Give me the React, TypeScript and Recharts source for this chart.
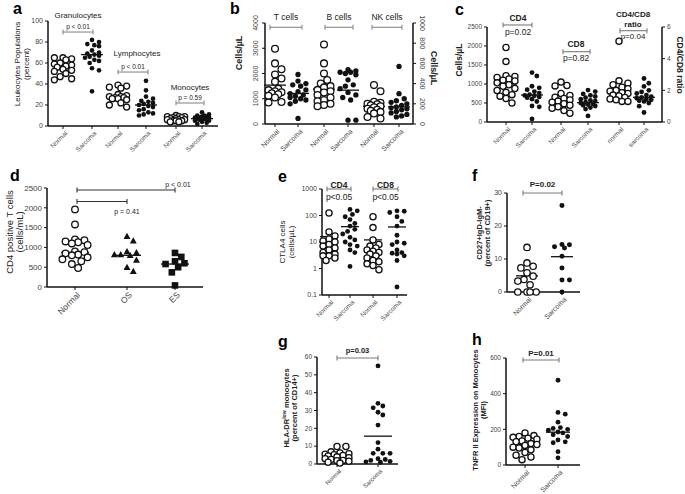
import React from "react";
import { ScatterChart, Scatter, XAxis, YAxis, ReferenceLine, ReferenceDot } from "recharts";

const FONT = "'Liberation Sans', Arial, Helvetica, sans-serif";

// ---- a: leukocyte populations (percent)
const aLabels = ["Normal", "Sarcoma", "Normal", "Sarcoma", "Normal", "Sarcoma"];
const aTitles = ["Granulocytes", "Lymphocytes", "Monocytes"];
const aPValues = ["p < 0.01", "p < 0.01", "p = 0.59"];
const granNormal = [65, 64, 65, 63, 60, 58, 59, 57, 56, 53, 54, 52, 50, 47, 45, 44];
const granSarcoma = [82, 80, 78, 77, 76, 72, 70, 69, 68, 67, 66, 65, 63, 62, 60, 55, 53, 33];
const lymphNormal = [39, 38, 37, 36, 30, 29, 28, 28, 27, 27, 26, 26, 25, 22, 20, 18];
const lymphSarcoma = [43, 34, 28, 26, 24, 23, 22, 21, 20, 19, 18, 16, 15, 13, 12, 11, 10];
const monoNormal = [10, 9, 9, 9, 8, 8, 7, 7, 6, 6, 6, 5, 5, 5, 4, 4];
const monoSarcoma = [13, 11, 10, 10, 9, 9, 8, 8, 8, 7, 7, 7, 6, 6, 5, 5, 4, 3, 2];
const aMeans = [58, 68, 27.5, 20, 6, 7];

// ---- b: T, B (left axis) and NK cells (right axis), cells/uL
const bTitles = ["T cells", "B cells", "NK cells"];
const tNormal = [2980, 2400, 2170, 1960, 1800, 1670, 1400, 1340, 1300, 1260, 1220, 1180, 1120, 1050, 870, 850];
const tSarcoma = [1960, 1700, 1600, 1550, 1500, 1350, 1280, 1200, 1150, 1100, 1050, 1000, 950, 900, 800, 220];
const bNormal = [3150, 2400, 2000, 1740, 1600, 1500, 1450, 1350, 1300, 1250, 1150, 1050, 950, 900, 800, 750, 700];
const bSarcoma = [2150, 2100, 2050, 2050, 2000, 1950, 1750, 1550, 1500, 1400, 1250, 1150, 1050, 950, 150, 150];
const nkNormal = [385, 325, 220, 210, 200, 195, 185, 175, 165, 150, 140, 130, 120, 105, 70, 55];
const nkSarcoma = [570, 300, 250, 230, 215, 200, 185, 170, 160, 150, 140, 125, 110, 95, 80, 70];
const bMeans = [1540, 1210, 1380, 1340, 175, 170];

// ---- c: CD4, CD8 (cells/uL) and CD4/CD8 ratio
const cLabels = ["Normal", "Sarcoma", "Normal", "Sarcoma", "normal", "sarcoma"];
const cPValues = ["p=0.02", "p=0.82", "p=0.04"];
const cd4Normal = [1960, 1590, 1220, 1200, 1170, 1130, 1100, 1080, 1030, 980, 940, 880, 830, 780, 720, 680, 620, 500];
const cd4Sarcoma = [1300, 1210, 940, 900, 850, 800, 760, 720, 700, 690, 660, 640, 600, 540, 420, 400, 80];
const cd8Normal = [1050, 960, 950, 750, 700, 650, 620, 580, 550, 520, 480, 440, 400, 360, 300, 230];
const cd8Sarcoma = [840, 800, 740, 700, 670, 640, 600, 570, 550, 520, 500, 480, 460, 440, 420, 380, 340, 160];
const ratioNormal = [5.1, 2.6, 2.45, 2.35, 2.2, 2.1, 2.0, 1.95, 1.85, 1.8, 1.7, 1.65, 1.55, 1.45, 1.4, 1.3, 1.3];
const ratioSarcoma = [2.75, 2.45, 2.25, 2.0, 1.9, 1.8, 1.7, 1.6, 1.55, 1.5, 1.45, 1.4, 1.35, 1.3, 1.2, 1.0, 0.6];
const cMeans = [1000, 710, 580, 510, 2.0, 1.56];

// ---- d: CD4 positive T cells by group
const dLabels = ["Normal", "OS", "ES"];
const dPValues = ["p < 0.01", "p = 0.41"];
const dNormal = [1960, 1580, 1200, 1180, 1150, 1130, 1100, 1060, 900, 880, 850, 820, 800, 750, 700, 650, 580, 480];
const dOS = [1280, 1170, 900, 870, 820, 820, 800, 680, 500, 400];
const dES = [860, 760, 650, 600, 580, 500, 370, 40];
const dMeans = [870, 800, 580];

// ---- e: CTLA4 cells (log)
const eCd4Normal = [125, 24, 17, 13, 11, 10, 8, 7, 6, 5, 4, 3.5, 3, 3, 2.5, 2];
const eCd4Sarcoma = [170, 150, 110, 90, 70, 50, 40, 30, 25, 20, 15, 12, 10, 8, 7, 5, 4, 1.2];
const eCd8Normal = [90, 35, 12, 8, 7, 6, 5, 4.5, 4, 3.5, 3, 2.5, 2, 1.8, 1.5, 1.3, 0.9];
const eCd8Sarcoma = [150, 145, 130, 90, 60, 40, 18, 10, 9, 8, 5, 4, 3.8, 3.5, 3, 2, 0.2];
const eMeans = [16, 38, 12, 37];

// ---- f: CD27+IgD-IgM-
const fNormal = [13.5, 8.8, 7.8, 7.3, 5.8, 4.8, 3.8, 3.3, 2.2, 0, 0, 0, 0];
const fSarcoma = [26.2, 14.4, 14.3, 13.7, 13.3, 10.8, 7.3, 3.6, 3.6, 0];
const fMeans = [4.9, 10.7];

// ---- g: HLA-DR low monocytes
const gNormal = [9.8, 9.8, 6.8, 6.2, 5.8, 5.5, 5.2, 4.8, 4.5, 4, 3.5, 3, 2.5, 2, 1.8, 1.5, 1, 0.5];
const gSarcoma = [55, 34, 32.5, 31.5, 29, 27.5, 21.8, 12, 8.3, 6, 6, 6, 3, 2.5, 2, 1.5, 1.2, 1];
const gMeans = [4.1, 15.6];

// ---- h: TNFR II on monocytes
const hNormal = [180, 165, 160, 155, 150, 145, 135, 130, 120, 115, 110, 100, 95, 85, 70, 55, 45, 30];
const hSarcoma = [475, 295, 285, 240, 210, 205, 200, 195, 185, 180, 170, 160, 140, 130, 125, 75, 40];
const hMeans = [116, 184];

const twoGroup = ["Normal", "Sarcoma"];

type Marker = "open" | "dot" | "tri" | "sq";
type AxisId = "left" | "right";
interface Group { pos: number; label: string; values: number[]; mean: number; marker: Marker; axis?: AxisId }
interface Bracket { from: number; to: number; y: number; axis?: AxisId }
interface Note { x: number; y: number; text: string; size: number; bold?: boolean; axis?: AxisId }
interface PanelCfg {
  box: { x1: number; y1: number; x2: number; y2: number };
  yDomain: [number, number];
  yTicks: number[];
  log?: boolean;
  right?: { domain: [number, number]; ticks: number[] };
  rotateTicks?: boolean;
  tickSize: number;
  xTickSize: number;
  r: number;
  spread: number;
  meanHalf: number;
  bracketColor: string;
  groups: Group[];
  brackets: Bracket[];
  notes: Note[];
}

function MarkerShape({ kind, cx, cy, r }: { kind: Marker; cx: number; cy: number; r: number }) {
  if (kind === "open") return <circle cx={cx} cy={cy} r={r} fill="#fff" stroke="#111" strokeWidth={1.3} />;
  if (kind === "dot") return <circle cx={cx} cy={cy} r={r * 0.78} fill="#111" />;
  if (kind === "tri") {
    const s = r * 1.05;
    return <polygon points={`${cx},${cy - s} ${cx - s},${cy + s * 0.8} ${cx + s},${cy + s * 0.8}`} fill="#111" />;
  }
  return <rect x={cx - r} y={cy - r} width={r * 2} height={r * 2} fill="#111" />;
}

// column-scatter layout: push points sideways within +-maxS px, accepting overlap when crowded
function swarm(ys: number[], r: number, maxS: number): number[] {
  const placed: { x: number; y: number }[] = [];
  const step = r * 0.9;
  const cands = [0];
  for (let k = 1; k * step <= maxS; k++) cands.push(k * step, -k * step);
  return ys.map((y) => {
    let best = 0;
    let bestD = -1;
    for (const off of cands) {
      const d = placed.length ? Math.min(...placed.map((p) => Math.hypot(p.x - off, p.y - y))) : Infinity;
      if (d >= 2 * r) { best = off; break; }
      if (d > bestD) { bestD = d; best = off; }
    }
    placed.push({ x: best, y });
    return best;
  });
}

function Panel({ c }: { c: PanelCfg }) {
  const { x1, y1, x2, y2 } = c.box;
  const W = x2 - x1;
  const H = y2 - y1;
  const L = 50, T = 45, B = 50, R = 40;

  const yPx = (v: number, axis: AxisId) => {
    const [d0, d1] = axis === "right" && c.right ? c.right.domain : c.yDomain;
    if (c.log) return ((Math.log10(v) - Math.log10(d0)) / (Math.log10(d1) - Math.log10(d0))) * H;
    return ((v - d0) / (d1 - d0)) * H;
  };

  const labels: Record<number, string> = {};
  c.groups.forEach((g) => (labels[g.pos] = g.label));
  const axisLine = { stroke: "#111", strokeWidth: 1.5 };
  const tickLine = { stroke: "#111", strokeWidth: 1 };
  const tickFont = { fontSize: c.tickSize, fill: "#444", fontFamily: FONT };

  const xTick = (p: any) => {
    const { x, y, payload } = p;
    return (
      <text x={x + 2} y={y} dy="0.6em" transform={`rotate(-45 ${x + 2} ${y})`} textAnchor="end"
        fontSize={c.xTickSize} fill="#444" fontFamily={FONT}>{labels[payload.value]}</text>
    );
  };
  const leftRot = (p: any) => (
    <text x={p.x} y={p.y} transform={`rotate(-90 ${p.x} ${p.y})`} textAnchor="middle"
      {...tickFont}>{p.payload.value}</text>
  );
  const rightRot = (p: any) => (
    <text x={p.x} y={p.y} transform={`rotate(90 ${p.x} ${p.y})`} textAnchor="middle"
      {...tickFont}>{p.payload.value}</text>
  );

  const cap = 2.5;
  const bracketShape = (p: any) => (
    <g stroke={c.bracketColor} strokeWidth={1.1}>
      <line x1={p.x1} y1={p.y1} x2={p.x2} y2={p.y2} />
      <line x1={p.x1} y1={p.y1 - cap} x2={p.x1} y2={p.y1 + cap} />
      <line x1={p.x2} y1={p.y2 - cap} x2={p.x2} y2={p.y2 + cap} />
    </g>
  );

  return (
    <div style={{ position: "absolute", left: x1 - L, top: y1 - T }}>
      <ScatterChart width={W + L + R} height={H + T + B}
        margin={{ top: T, right: c.right ? 0 : R, bottom: 0, left: 0 }}>
        <XAxis type="number" dataKey="x" domain={[0, W]} ticks={c.groups.map((g) => g.pos)} interval={0}
          tick={xTick} tickSize={3} tickMargin={2} axisLine={axisLine} tickLine={tickLine} height={B} />
        <YAxis yAxisId="left" type="number" dataKey="y" domain={c.yDomain} ticks={c.yTicks} interval={0}
          scale={c.log ? "log" : "auto"} width={L} tickSize={3} tickMargin={c.rotateTicks ? 4 : 2}
          axisLine={axisLine} tickLine={tickLine} tick={c.rotateTicks ? leftRot : tickFont}
          tickFormatter={(v: number) => String(v)} />
        {c.right && (
          <YAxis yAxisId="right" orientation="right" type="number" dataKey="y" domain={c.right.domain}
            ticks={c.right.ticks} interval={0} width={R} tickSize={3} tickMargin={c.rotateTicks ? 4 : 2}
            axisLine={axisLine} tickLine={tickLine} tick={c.rotateTicks ? rightRot : tickFont} />
        )}
        {c.groups.map((g, i) => {
          const axis = g.axis ?? "left";
          const rr = g.marker === "dot" ? c.r * 0.8 : c.r;
          const offs = swarm(g.values.map((v) => yPx(v, axis)), rr + 0.2, c.spread);
          const data = g.values.map((v, j) => ({ x: Math.min(W - 1, Math.max(1, g.pos + offs[j])), y: v }));
          return (
            <Scatter key={`s${i}`} yAxisId={axis} data={data} isAnimationActive={false}
              shape={(p: any) => <MarkerShape kind={g.marker} cx={p.cx} cy={p.cy} r={c.r} />} />
          );
        })}
        {c.groups.map((g, i) => (
          <ReferenceLine key={`m${i}`} yAxisId={g.axis ?? "left"} ifOverflow="visible" stroke="#111" strokeWidth={1.3}
            segment={[{ x: g.pos - c.meanHalf, y: g.mean }, { x: g.pos + c.meanHalf, y: g.mean }]} />
        ))}
        {c.brackets.map((b, i) => (
          <ReferenceLine key={`b${i}`} yAxisId={b.axis ?? "left"} ifOverflow="visible" shape={bracketShape}
            segment={[{ x: b.from, y: b.y }, { x: b.to, y: b.y }]} />
        ))}
        {c.notes.map((n, i) => (
          <ReferenceDot key={`n${i}`} yAxisId={n.axis ?? "left"} x={n.x} y={n.y} r={0} ifOverflow="visible"
            shape={(p: any) => (
              <text x={p.cx} y={p.cy} textAnchor="middle" dominantBaseline="central" fontSize={n.size}
                fontWeight={n.bold ? 700 : 400} fill="#222" fontFamily={FONT}>{n.text}</text>
            )} />
        ))}
      </ScatterChart>
    </div>
  );
}

const panelA: PanelCfg = {
  box: { x1: 48, y1: 21, x2: 218, y2: 126 },
  yDomain: [0, 100], yTicks: [0, 20, 40, 60, 80, 100],
  tickSize: 7, xTickSize: 6.5, r: 3.0, spread: 9, meanHalf: 11, bracketColor: "#8a8a8a",
  groups: [
    { pos: 15, label: aLabels[0], values: granNormal, mean: aMeans[0], marker: "open" },
    { pos: 44, label: aLabels[1], values: granSarcoma, mean: aMeans[1], marker: "dot" },
    { pos: 70, label: aLabels[2], values: lymphNormal, mean: aMeans[2], marker: "open" },
    { pos: 98, label: aLabels[3], values: lymphSarcoma, mean: aMeans[3], marker: "dot" },
    { pos: 128, label: aLabels[4], values: monoNormal, mean: aMeans[4], marker: "open" },
    { pos: 154, label: aLabels[5], values: monoSarcoma, mean: aMeans[5], marker: "dot" },
  ],
  brackets: [{ from: 15, to: 45, y: 89.5 }, { from: 70, to: 100, y: 51.4 }, { from: 128, to: 156, y: 21.9 }],
  notes: [
    { x: 30, y: 105.7, text: aTitles[0], size: 8 },
    { x: 30, y: 95.2, text: aPValues[0], size: 6.5 },
    { x: 89, y: 69.5, text: aTitles[1], size: 8 },
    { x: 85, y: 56.2, text: aPValues[1], size: 6.5 },
    { x: 142, y: 36.2, text: aTitles[2], size: 8 },
    { x: 142, y: 26.7, text: aPValues[2], size: 6.5 },
  ],
};

const panelB: PanelCfg = {
  box: { x1: 265, y1: 23, x2: 413, y2: 124 },
  yDomain: [0, 4000], yTicks: [0, 1000, 2000, 3000, 4000],
  right: { domain: [0, 1000], ticks: [0, 200, 400, 600, 800, 1000] },
  rotateTicks: true, tickSize: 7, xTickSize: 7, r: 3.4, spread: 9, meanHalf: 11, bracketColor: "#8a8a8a",
  groups: [
    { pos: 10, label: twoGroup[0], values: tNormal, mean: bMeans[0], marker: "open" },
    { pos: 33, label: twoGroup[1], values: tSarcoma, mean: bMeans[1], marker: "dot" },
    { pos: 59, label: twoGroup[0], values: bNormal, mean: bMeans[2], marker: "open" },
    { pos: 83, label: twoGroup[1], values: bSarcoma, mean: bMeans[3], marker: "dot" },
    { pos: 109, label: twoGroup[0], values: nkNormal, mean: bMeans[4], marker: "open", axis: "right" },
    { pos: 134, label: twoGroup[1], values: nkSarcoma, mean: bMeans[5], marker: "dot", axis: "right" },
  ],
  brackets: [{ from: 5, to: 37, y: 3830 }, { from: 60, to: 88, y: 3830 }, { from: 107, to: 137, y: 3830 }],
  notes: [
    { x: 21, y: 4226, text: bTitles[0], size: 8.5 },
    { x: 74, y: 4226, text: bTitles[1], size: 8.5 },
    { x: 122, y: 4226, text: bTitles[2], size: 8.5 },
  ],
};

const panelC: PanelCfg = {
  box: { x1: 487, y1: 27, x2: 662, y2: 122 },
  yDomain: [0, 2500], yTicks: [0, 500, 1000, 1500, 2000, 2500],
  right: { domain: [0, 6], ticks: [0, 2, 4, 6] },
  tickSize: 6.5, xTickSize: 6.5, r: 3.1, spread: 9, meanHalf: 11, bracketColor: "#7a7a7a",
  groups: [
    { pos: 19, label: cLabels[0], values: cd4Normal, mean: cMeans[0], marker: "open" },
    { pos: 45, label: cLabels[1], values: cd4Sarcoma, mean: cMeans[1], marker: "dot" },
    { pos: 74, label: cLabels[2], values: cd8Normal, mean: cMeans[2], marker: "open" },
    { pos: 101, label: cLabels[3], values: cd8Sarcoma, mean: cMeans[3], marker: "dot" },
    { pos: 132, label: cLabels[4], values: ratioNormal, mean: cMeans[4], marker: "open", axis: "right" },
    { pos: 157, label: cLabels[5], values: ratioSarcoma, mean: cMeans[5], marker: "dot", axis: "right" },
  ],
  brackets: [{ from: 16, to: 45, y: 2553 }, { from: 76, to: 103, y: 1850 }, { from: 133, to: 160, y: 2403 }],
  notes: [
    { x: 31, y: 2737, text: "CD4", size: 8.5, bold: true },
    { x: 31, y: 2368, text: cPValues[0], size: 8.5 },
    { x: 89, y: 2053, text: "CD8", size: 8.5, bold: true },
    { x: 89, y: 1684, text: cPValues[1], size: 8.5 },
    { x: 146, y: 2840, text: "CD4/CD8", size: 8, bold: true },
    { x: 146, y: 2570, text: "ratio", size: 8, bold: true },
    { x: 146, y: 2250, text: cPValues[2], size: 8 },
  ],
};

const panelD: PanelCfg = {
  box: { x1: 47, y1: 188, x2: 203, y2: 287 },
  yDomain: [0, 2500], yTicks: [0, 500, 1000, 1500, 2000, 2500],
  tickSize: 8, xTickSize: 8.5, r: 3.3, spread: 15, meanHalf: 14, bracketColor: "#333",
  groups: [
    { pos: 28, label: dLabels[0], values: dNormal, mean: dMeans[0], marker: "open" },
    { pos: 80, label: dLabels[1], values: dOS, mean: dMeans[1], marker: "tri" },
    { pos: 128, label: dLabels[2], values: dES, mean: dMeans[2], marker: "sq" },
  ],
  brackets: [{ from: 30, to: 128, y: 2450 }, { from: 30, to: 80, y: 2159 }],
  notes: [
    { x: 131, y: 2601, text: dPValues[0], size: 7 },
    { x: 80, y: 1894, text: dPValues[1], size: 7 },
  ],
};

const panelE: PanelCfg = {
  box: { x1: 322, y1: 189, x2: 407, y2: 295 },
  yDomain: [0.1, 1000], yTicks: [0.1, 1, 10, 100, 1000], log: true,
  tickSize: 7, xTickSize: 6.5, r: 3.1, spread: 8, meanHalf: 9, bracketColor: "#7a7a7a",
  groups: [
    { pos: 7, label: twoGroup[0], values: eCd4Normal, mean: eMeans[0], marker: "open" },
    { pos: 28, label: twoGroup[1], values: eCd4Sarcoma, mean: eMeans[1], marker: "dot" },
    { pos: 51, label: twoGroup[0], values: eCd8Normal, mean: eMeans[2], marker: "open" },
    { pos: 75, label: twoGroup[1], values: eCd8Sarcoma, mean: eMeans[3], marker: "dot" },
  ],
  brackets: [{ from: 5, to: 29, y: 1000 }, { from: 51, to: 76, y: 1000 }],
  notes: [
    { x: 17, y: 1450, text: "CD4", size: 8.5, bold: true },
    { x: 17, y: 513, text: "p<0.05", size: 8.5 },
    { x: 63.5, y: 1450, text: "CD8", size: 8.5, bold: true },
    { x: 63.5, y: 513, text: "p<0.05", size: 8.5 },
  ],
};

const panelF: PanelCfg = {
  box: { x1: 507, y1: 193, x2: 580, y2: 292 },
  yDomain: [0, 30], yTicks: [0, 10, 20, 30],
  tickSize: 7, xTickSize: 7, r: 3.2, spread: 10, meanHalf: 11, bracketColor: "#7a7a7a",
  groups: [
    { pos: 20, label: twoGroup[0], values: fNormal, mean: fMeans[0], marker: "open" },
    { pos: 55, label: twoGroup[1], values: fSarcoma, mean: fMeans[1], marker: "dot" },
  ],
  brackets: [{ from: 16, to: 55, y: 30 }],
  notes: [{ x: 35.5, y: 32.7, text: "P=0.02", size: 8, bold: true }],
};

const panelG: PanelCfg = {
  box: { x1: 317, y1: 357, x2: 398, y2: 464 },
  yDomain: [0, 60], yTicks: [0, 10, 20, 30, 40, 50, 60],
  tickSize: 6.5, xTickSize: 6, r: 3.1, spread: 14, meanHalf: 14, bracketColor: "#7a7a7a",
  groups: [
    { pos: 20, label: twoGroup[0], values: gNormal, mean: gMeans[0], marker: "open" },
    { pos: 61, label: twoGroup[1], values: gSarcoma, mean: gMeans[1], marker: "dot" },
  ],
  brackets: [{ from: 20, to: 61, y: 59.4 }],
  notes: [{ x: 40.5, y: 63.9, text: "p=0.03", size: 7.5, bold: true }],
};

const panelH: PanelCfg = {
  box: { x1: 506, y1: 358, x2: 580, y2: 465 },
  yDomain: [0, 600], yTicks: [0, 200, 400, 600],
  tickSize: 6.5, xTickSize: 7, r: 3.1, spread: 12, meanHalf: 12, bracketColor: "#7a7a7a",
  groups: [
    { pos: 19, label: twoGroup[0], values: hNormal, mean: hMeans[0], marker: "open" },
    { pos: 52, label: twoGroup[1], values: hSarcoma, mean: hMeans[1], marker: "dot" },
  ],
  brackets: [{ from: 17, to: 53, y: 589 }],
  notes: [{ x: 35, y: 628, text: "P=0.01", size: 8, bold: true }],
};

function AxisTitle({ x, y, lines, size, bold, rot = -90 }: {
  x: number; y: number; lines: React.ReactNode[]; size: number; bold?: boolean; rot?: number;
}) {
  return (
    <div style={{
      position: "absolute", left: x, top: y, transform: `translate(-50%, -50%) rotate(${rot}deg)`,
      whiteSpace: "nowrap", textAlign: "center", fontFamily: FONT, fontSize: size,
      fontWeight: bold ? 700 : 400, lineHeight: 1.1, color: "#222",
    }}>
      {lines.map((l, i) => <div key={i}>{l}</div>)}
    </div>
  );
}

function Letter({ x, y, t }: { x: number; y: number; t: string }) {
  return (
    <div style={{ position: "absolute", left: x, top: y, fontFamily: FONT, fontWeight: 700, fontSize: 16, lineHeight: 1 }}>{t}</div>
  );
}

export default function App() {
  return (
    <div style={{ position: "absolute", left: 0, top: 0, width: 685, height: 494, background: "#fff", overflow: "hidden" }}>
      <Panel c={panelA} />
      <Panel c={panelB} />
      <Panel c={panelC} />
      <Panel c={panelD} />
      <Panel c={panelE} />
      <Panel c={panelF} />
      <Panel c={panelG} />
      <Panel c={panelH} />

      <AxisTitle x={23} y={64} size={8} lines={["Leukocytes Populations", "(percent)"]} />
      <AxisTitle x={240} y={53} size={9} bold lines={["Cells/µL"]} />
      <AxisTitle x={433} y={68} size={9} bold rot={90} lines={["Cells/µL"]} />
      <AxisTitle x={460} y={60} size={8.5} bold lines={["Cells/µL"]} />
      <AxisTitle x={679} y={65} size={8.5} bold rot={90} lines={["CD4/CD8 ratio"]} />
      <AxisTitle x={15} y={232} size={9.5} lines={["CD4 positive T cells", "(cells/mL)"]} />
      <AxisTitle x={288} y={242} size={8} lines={["CTLA4 cells", "(cells/µL)"]} />
      <AxisTitle x={484} y={233} size={7.5} bold lines={["CD27+IgD-IgM-", "(percent of CD19+)"]} />
      <AxisTitle x={290} y={408} size={7.5} bold
        lines={[<span>HLA-DR<sup style={{ fontSize: "0.7em" }}>low</sup> monocytes</span>, "(percent of CD14+)"]} />
      <AxisTitle x={480} y={410} size={7.5} bold lines={["TNFR II Expression on Monocytes", "(MFI)"]} />

      <Letter x={13} y={1} t="a" />
      <Letter x={230} y={1} t="b" />
      <Letter x={455} y={2} t="c" />
      <Letter x={10} y={168} t="d" />
      <Letter x={278} y={169} t="e" />
      <Letter x={472} y={168} t="f" />
      <Letter x={278} y={334} t="g" />
      <Letter x={472} y={332} t="h" />
    </div>
  );
}
